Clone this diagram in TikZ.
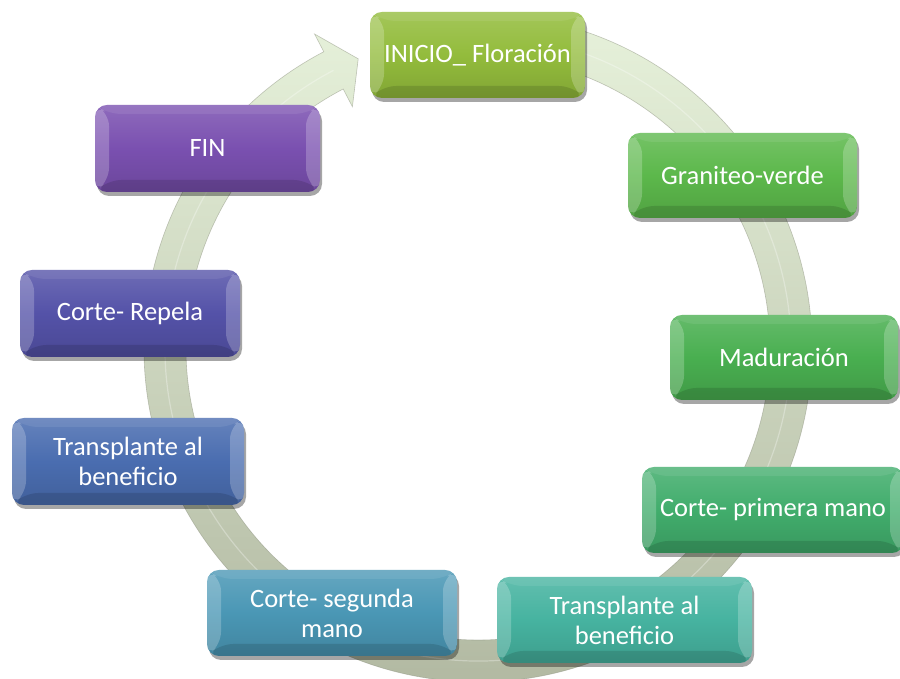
\documentclass[tikz,border=0pt]{standalone}
\usepackage{fontspec}
\setmainfont{Carlito}
\usetikzlibrary{shadows,calc}
\definecolor{cA}{HTML}{93BC3C}
\definecolor{cB}{HTML}{5CB84B}
\definecolor{cC}{HTML}{49AF50}
\definecolor{cD}{HTML}{41AD6C}
\definecolor{cE}{HTML}{46B3A0}
\definecolor{cF}{HTML}{4A97B5}
\definecolor{cG}{HTML}{4A6DB0}
\definecolor{cH}{HTML}{5452A8}
\definecolor{cI}{HTML}{7A50B0}
\definecolor{ringtop}{HTML}{E6F1DA}
\definecolor{ringbot}{HTML}{B0B7A0}
\tikzset{
  stage/.style={
    rounded corners=12pt, inner sep=4pt, align=center, text=white,
    font=\fontsize{26.5}{30}\selectfont,
    top color=#1!85!white, bottom color=#1!88!black, middle color=#1,
    drop shadow={shadow xshift=2pt, shadow yshift=-4pt, opacity=.35, fill=black},
    path picture={
      \fill[white,opacity=.22] (path picture bounding box.north west)
        -- ([xshift=14pt,yshift=-9pt]path picture bounding box.north west)
        -- ([xshift=14pt,yshift=12pt]path picture bounding box.south west)
        -- (path picture bounding box.south west) -- cycle;
      \fill[white,opacity=.22] (path picture bounding box.north east)
        -- ([xshift=-14pt,yshift=-9pt]path picture bounding box.north east)
        -- ([xshift=-14pt,yshift=12pt]path picture bounding box.south east)
        -- (path picture bounding box.south east) -- cycle;
      \fill[white,opacity=.08] (path picture bounding box.north west)
        -- ([xshift=14pt,yshift=-9pt]path picture bounding box.north west)
        -- ([xshift=-14pt,yshift=-9pt]path picture bounding box.north east)
        -- (path picture bounding box.north east) -- cycle;
      \fill[black,opacity=.12] (path picture bounding box.south west)
        -- ([xshift=14pt,yshift=12pt]path picture bounding box.south west)
        -- ([xshift=-14pt,yshift=12pt]path picture bounding box.south east)
        -- (path picture bounding box.south east) -- cycle;
    }
  },
  ringstyle/.style={top color=ringtop, bottom color=ringbot, draw=ringbot!80!black, draw opacity=.5, line width=.6pt}
}
\begin{document}
\begin{tikzpicture}[x=1pt,y=1pt]
\useasboundingbox (0,0) rectangle (900,679);
\coordinate (C) at (478,331);
% circular arrow
\shade[ringstyle]
  ($(C)+(80:334pt)$) arc[start angle=80, end angle=-242.5, radius=334pt]
  -- ($(C)+(-242.5:354pt)$) -- ($(C)+(-247.5:313pt)$) -- ($(C)+(-242.5:272pt)$)
  -- ($(C)+(-242.5:292pt)$) arc[start angle=-242.5, end angle=80, radius=292pt]
  -- cycle;
\draw[white,opacity=.3,line width=1.2pt] ($(C)+(80:313pt)$) arc[start angle=80, end angle=-242.5, radius=313pt];
% stages
\node[stage=cA, minimum width=215pt, minimum height=86pt] (s1) at (477.5,624) {INICIO\_ Floración};
\node[stage=cB, minimum width=229pt, minimum height=85pt] (s2) at (742.5,503.5) {Graniteo-verde};
\node[stage=cC, minimum width=228pt, minimum height=85pt] (s3) at (784,321.5) {Maduración};
\node[stage=cD, minimum width=262pt, minimum height=86pt] (s4) at (773,169) {Corte- primera mano};
\node[stage=cE, minimum width=255pt, minimum height=86pt] (s5) at (624.5,59) {Transplante al\\beneficio};
\node[stage=cF, minimum width=250pt, minimum height=86pt] (s6) at (332,66) {Corte- segunda\\mano};
\node[stage=cG, minimum width=232pt, minimum height=87pt] (s7) at (128,217.5) {Transplante al\\beneficio};
\node[stage=cH, minimum width=220pt, minimum height=87pt] (s8) at (130,365.5) {Corte- Repela};
\node[stage=cI, minimum width=225pt, minimum height=87pt] (s9) at (207.5,530.5) {FIN};
\end{tikzpicture}
\end{document}
